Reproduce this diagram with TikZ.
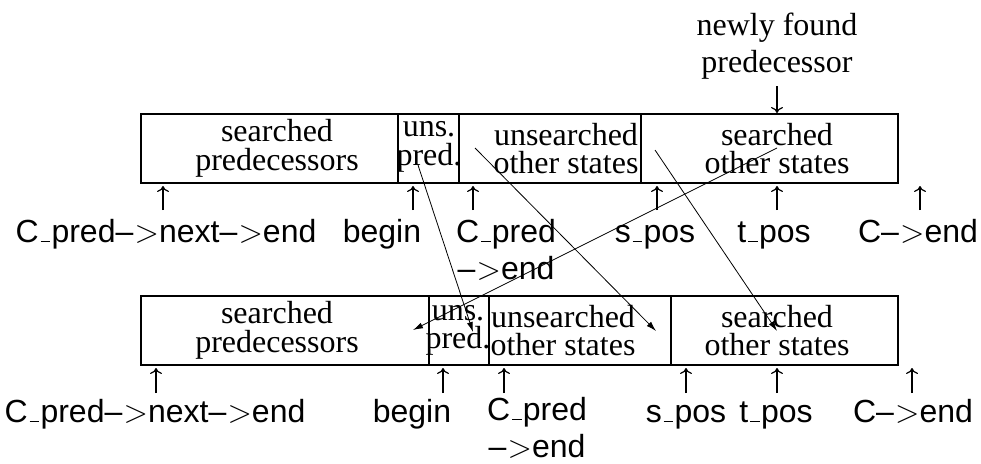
\RequirePackage{fix-cm}
\documentclass[tikz,border=0pt]{standalone}
\usepackage{fontspec}
\setmainfont{Liberation Serif}
\setsansfont{Liberation Sans}
\usetikzlibrary{arrows.meta}
\newcommand\usc{\leavevmode\kern.06em\vbox{\hrule width.3em height 1.3pt}\kern.04em}
\newcommand\ptrto{–\kern.04em$>$}
\begin{document}
\begin{tikzpicture}[x=1pt,y=-1pt,
  cell/.style={draw, line width=1.1pt, minimum height=69pt, inner sep=0pt, outer sep=0pt, anchor=north west},
  celltext/.style={font=\fontsize{32}{28.5}\selectfont, align=center, inner sep=0pt},
  lab/.style={font=\sffamily\fontsize{32}{37}\selectfont, align=center, inner sep=0pt, anchor=base},
  ptr/.style={line width=1.2pt, -{Computer Modern Rightarrow[length=6pt,width=12pt]}},
  move/.style={line width=0.8pt, -{Latex[length=10pt,width=6pt]}}]
\useasboundingbox (0,0) rectangle (981,463);
% top row
\node[cell, minimum width=257pt] (t1) at (141,114) {};
\node[cell, minimum width=61pt] (t2) at (398,114) {};
\node[cell, minimum width=182pt] (t3) at (459,114) {};
\node[cell, minimum width=257pt] (t4) at (641,114) {};
\node[celltext] (t1x) at (277,148.5) {searched\\predecessors};
\node[celltext] (t2x) at (429,147) {uns.\\pred.};
\node[celltext] (t3x) at (566,148.5) {unsearched\\other states};
\node[celltext] (t4x) at (777,148.5) {searched\\other states};
% bottom row
\node[cell, minimum width=288pt] (b1) at (141,296) {};
\node[cell, minimum width=60pt] (b2) at (429,296) {};
\node[cell, minimum width=182pt] (b3) at (489,296) {};
\node[cell, minimum width=227pt] (b4) at (671,296) {};
\node[celltext] (b1x) at (277,330.5) {searched\\predecessors};
\node[celltext] (b2x) at (458,330.5) {uns.\\pred.};
\node[celltext] (b3x) at (563,330.5) {unsearched\\other states};
\node[celltext] (b4x) at (777,330.5) {searched\\other states};
% newly found
\node[font=\fontsize{32}{37}\selectfont, align=center, inner sep=0pt] (nf) at (777,46) {newly found\\predecessor};
\coordinate (nfa) at (777,113);
\draw[ptr] (777,86) -- (nfa);
% top labels
\node[lab] (l1) at (166,242) {C\usc pred\ptrto next\ptrto end};
\node[lab] (l2) at (382,242) {begin};
\node[lab] (l3) at (506,279) {C\usc pred\\\ptrto end};
\node[lab] (l4) at (655,242) {s\usc pos};
\node[lab] (l5) at (774,242) {t\usc pos};
\node[lab] (l6) at (918,242) {C\ptrto end};
\foreach \x/\n in {163/1,413/2,473/3,657/4,777/5,920/6}{
  \coordinate (ta\n) at (\x,186);
  \draw[ptr] (\x,210) -- (ta\n);
}
% bottom labels
\node[lab] (m1) at (155,422) {C\usc pred\ptrto next\ptrto end};
\node[lab] (m2) at (412,422) {begin};
\node[lab] (m3) at (537,457) {C\usc pred\\\ptrto end};
\node[lab] (m4) at (686,422) {s\usc pos};
\node[lab] (m5) at (776,422) {t\usc pos};
\node[lab] (m6) at (913,422) {C\ptrto end};
\foreach \x/\n in {156/1,443/2,504/3,686/4,777/5,912/6}{
  \coordinate (ba\n) at (\x,368);
  \draw[ptr] (\x,393) -- (ba\n);
}
% moves
\coordinate (p1) at (418,165); \coordinate (q1) at (473,332);
\coordinate (p2) at (475,148); \coordinate (q2) at (656,331);
\coordinate (p3) at (655,150); \coordinate (q3) at (777,331);
\coordinate (p4) at (777,148); \coordinate (q4) at (413,330);
\draw[move] (p1) -- (q1);
\draw[move] (p2) -- (q2);
\draw[move] (p3) -- (q3);
\draw[move] (p4) -- (q4);
\end{tikzpicture}
\end{document}
